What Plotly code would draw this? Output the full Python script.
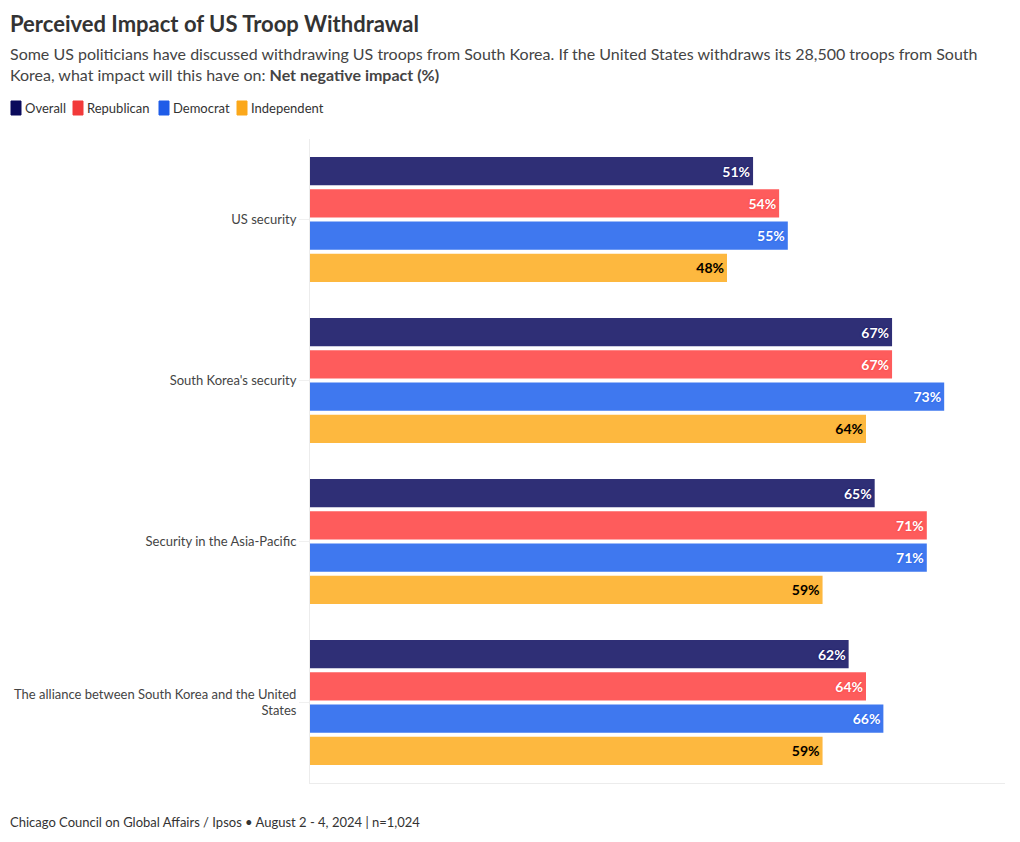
import plotly.graph_objects as go

categories = ["US security", "South Korea's security", "Security in the Asia-Pacific",
              "The alliance between South Korea and the United<br>States"]
series_names = ["Overall", "Republican", "Democrat", "Independent"]
overall = [51, 67, 65, 62]
republican = [54, 67, 71, 64]
democrat = [55, 73, 71, 66]
independent = [48, 64, 59, 59]
values = [overall, republican, democrat, independent]

bar_colors = ["#2f2f76", "#fe5c5c", "#3f78ef", "#fdb83f"]
legend_colors = ["#0b0b5c", "#f23a3a", "#1f5ce8", "#fba81b"]
text_colors = ["#ffffff", "#ffffff", "#ffffff", "#000000"]
shadow_colors = ["#0b0b5c", "#f23a3a", "#1f5ce8", "#fba81b"]

FONT = "Source Sans Pro, Lato, sans-serif"

# page offset: body margin of 8px
OFF = 8
L, T, R, B = 310 - OFF, 139 - OFF, 1020 - (1005 - OFF), 842 - (783 - OFF)
PW, PH = 1020 - L - R, 842 - T - B


def px_x(px):  # screen px -> paper x
    return (px - OFF - L) / PW


def px_y(py):  # screen px -> paper y
    return 1 - (py - OFF - T) / PH


fig = go.Figure()
for name, vals, bc, tc, sc in zip(series_names, values, bar_colors, text_colors, shadow_colors):
    fig.add_trace(go.Bar(
        name=name, y=categories, x=vals, orientation="h",
        marker=dict(color=bc, line=dict(width=0)),
        text=[f"{v}%" for v in vals], textposition="inside", insidetextanchor="end",
        textfont=dict(color=tc, size=14, family=FONT, weight="bold",
                      shadow=f"0px 0px 2px {sc}"),
        hoverinfo="skip", showlegend=False,
    ))

fig.update_layout(
    width=1020, height=842,
    margin=dict(l=L, r=R, t=T, b=B, autoexpand=False),
    paper_bgcolor="white", plot_bgcolor="white",
    font=dict(family=FONT, size=13, color="#444"),
    barmode="group", bargap=0.2, bargroupgap=0.12,
    showlegend=False,
    xaxis=dict(range=[0, 80], showticklabels=False, showgrid=False, zeroline=False,
               showline=True, linecolor="#ececec", linewidth=1, automargin=False),
    yaxis=dict(autorange="reversed", showgrid=False, showline=True, linecolor="#ececec",
               linewidth=1, ticks="outside", ticklen=10, tickcolor="#f0f0f0",
               tickfont=dict(size=13, color="#444"), automargin=False),
)

# custom legend
legend_x = [11, 73, 159, 237]
for name, col, lx in zip(series_names, legend_colors, legend_x):
    fig.add_shape(type="rect", xref="paper", yref="paper",
                  x0=px_x(lx), x1=px_x(lx + 10), y0=px_y(115), y1=px_y(101),
                  fillcolor=col, line=dict(color=col, width=1), layer="above")
    fig.add_annotation(text=name, xref="paper", yref="paper", x=px_x(lx + 12), y=px_y(108),
                       xanchor="left", yanchor="middle", showarrow=False,
                       font=dict(size=13, color="#333", family=FONT))

fig.add_annotation(text="<b>Perceived Impact of US Troop Withdrawal</b>", xref="paper", yref="paper",
                   x=px_x(8), y=px_y(24), xanchor="left", yanchor="middle",
                   showarrow=False, font=dict(size=22, color="#333", family=FONT))
fig.add_annotation(text="Some US politicians have discussed withdrawing US troops from South Korea. If the United States withdraws its 28,500 troops from South<br>Korea, what impact will this have on: <b>Net negative impact (%)</b>",
                   xref="paper", yref="paper", x=px_x(8), y=px_y(64),
                   xanchor="left", yanchor="middle", align="left", showarrow=False,
                   font=dict(size=16, color="#444", family=FONT))
fig.add_annotation(text="Chicago Council on Global Affairs / Ipsos • August 2 - 4, 2024 | n=1,024",
                   xref="paper", yref="paper", x=px_x(8), y=px_y(822),
                   xanchor="left", yanchor="middle", showarrow=False,
                   font=dict(size=13, color="#333", family=FONT))

fig.write_html("out.html")
